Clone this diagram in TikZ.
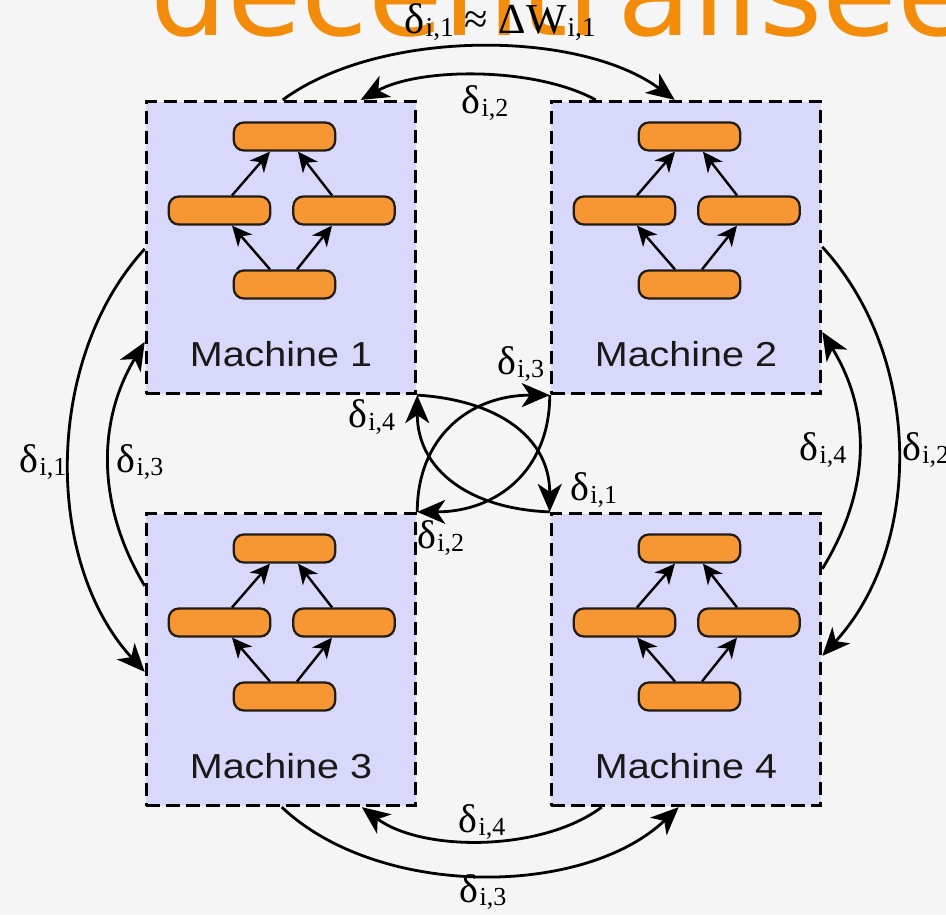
\documentclass[tikz,border=0pt]{standalone}
\usepackage{fontspec}
\setmainfont{Liberation Serif}
\newfontfamily\labelsans{Liberation Sans}
\newfontfamily\titlefont{DejaVu Sans}
\usetikzlibrary{arrows.meta,calc}

\definecolor{bgcol}{RGB}{245,245,245}
\definecolor{boxfill}{RGB}{216,216,250}
\definecolor{barfill}{RGB}{247,151,51}
\definecolor{barline}{RGB}{35,28,20}
\definecolor{titleorange}{RGB}{242,140,10}

% delta with a lowered "i,k" index
\newcommand\dlt[3][30]{{\fontsize{#1}{#1}\selectfont δ}\kern1pt{\fontsize{#2}{#2}\selectfont\raisebox{-0.12em}{i,#3}}}
\newcommand\dl[1]{\dlt[30]{19.5}{#1}}

\tikzset{
  machinebox/.style={draw=black, line width=2.4pt, dash pattern=on 10pt off 5pt,
    fill=boxfill, minimum width=202pt, minimum height=219pt, inner sep=0pt},
  bar/.style={draw=barline, line width=1.7pt, fill=barfill, rounded corners=7.5pt,
    minimum width=76pt, minimum height=21pt, inner sep=0pt},
  flow/.style={-{Stealth[length=15pt,width=14pt,inset=4.5pt]}, line width=1.8pt},
  xfer/.style={-{Stealth[length=21pt,width=18pt,inset=6pt]}, line width=2.1pt},
  dlab/.style={inner sep=0pt},
  machinelabel/.style={font=\labelsans\fontsize{26}{30}\selectfont, text=black!90, inner sep=0pt},
  machine/.pic={
    \node[machinebox] (-box) at (0,0) {};
    \node[bar] (-top) at (3.5,-111) {};
    \node[bar] (-left) at (-61.5,-37) {};
    \node[bar] (-right) at (63,-37) {};
    \node[bar] (-bot) at (3.5,37) {};
    \draw[flow] ([xshift=-10.9pt]-bot.north) -- ([xshift=9.4pt]-left.south);
    \draw[flow] ([xshift=9.4pt]-bot.north) -- ([xshift=-9pt]-right.south);
    \draw[flow] ([xshift=9.4pt]-left.north) -- ([xshift=-10.9pt]-top.south);
    \draw[flow] ([xshift=-9pt]-right.north) -- ([xshift=10.1pt]-top.south);
    \node[machinelabel, anchor=base] (-name) at (0,119) {\scalebox{1.14}[1]{Machine #1}};
  }
}

\begin{document}
\begin{tikzpicture}[x=0.75pt,y=-0.75pt]
\useasboundingbox (0,0) rectangle (946,915);
\clip (0,0) rectangle (946,915);
\fill[bgcol] (0,0) rectangle (946,915);

% heading, partly outside the frame
\node[anchor=base west, inner sep=0pt, text=titleorange,
      font=\titlefont\fontsize{91}{93}\selectfont] (title) at (150,35) {décentralisée};

% the four machines
\pic (m1) at (281,247.5) {machine=1};
\pic (m2) at (686,247.5) {machine=2};
\pic (m3) at (281,659.5) {machine=3};
\pic (m4) at (686,659.5) {machine=4};

% exchanges between neighbours: top
\draw[xfer] ($(m1-box.north west)+(138,0)$) .. controls +(96,-71) and +(-96,-71) .. ($(m2-box.north west)+(125,0)$);
\draw[xfer] ($(m2-box.north west)+(46,0)$) .. controls +(-60,-33) and +(60,-33) .. ($(m1-box.north west)+(216,0)$);
% left
\draw[xfer] ($(m1-box.north west)+(0,149)$) .. controls +(-101,110) and +(-101,-110) .. ($(m3-box.north west)+(0,160)$);
\draw[xfer] ($(m3-box.north west)+(0,74)$) .. controls +(-48,-80) and +(-48,80) .. ($(m1-box.north west)+(0,242)$);
% right
\draw[xfer] ($(m2-box.north east)+(0,147)$) .. controls +(101,110) and +(101,-110) .. ($(m4-box.north east)+(0,144)$);
\draw[xfer] ($(m4-box.north east)+(0,57)$) .. controls +(49,-80) and +(49,80) .. ($(m2-box.north east)+(0,232)$);
% bottom
\draw[xfer] ($(m3-box.south west)+(137,0)$) .. controls +(96,91) and +(-96,91) .. ($(m4-box.south west)+(129,0)$);
\draw[xfer] ($(m4-box.south west)+(52,0)$) .. controls +(-60,45) and +(60,45) .. ($(m3-box.south west)+(217,0)$);
% crossing exchanges through the middle
\draw[xfer] (m1-box.south east) .. controls +(80,5) and +(0,-75) .. (m4-box.north west);
\draw[xfer] (m4-box.north west) .. controls +(-80,-3) and +(0,75) .. (m1-box.south east);
\draw[xfer] (m3-box.north east) .. controls +(0,-75) and +(-80,0) .. (m2-box.south west);
\draw[xfer] (m2-box.south west) .. controls +(0,75) and +(80,0) .. (m3-box.north east);

% labels
\node[dlab, anchor=base] (lt1) at (500,33) {\dlt[32]{20.5}{1}\fontsize{32}{32}\selectfont\ ≈ ΔW\kern1pt{\fontsize{20.5}{20.5}\selectfont\raisebox{-0.12em}{i,1}}};
\node[dlab, anchor=base] (lt2) at (485,113) {\dl{2}};
\node[dlab, anchor=base] (ll1) at (43,472) {\dl{1}};
\node[dlab, anchor=base] (ll3) at (140,472) {\dl{3}};
\node[dlab, anchor=base] (lr4) at (823,460) {\dl{4}};
\node[dlab, anchor=base west] (lr2) at (902,460) {\dl{2}};
\node[dlab, anchor=base] (lb4) at (482,832) {\dl{4}};
\node[dlab, anchor=base] (lb3) at (483,902) {\dl{3}};
\node[dlab, anchor=base west] (lc1) at (570,500) {\dl{1}};
\node[dlab, anchor=base west] (lc4) at (348,427) {\dl{4}};
\node[dlab, anchor=base west] (lc3) at (497,374) {\dl{3}};
\node[dlab, anchor=base west] (lc2) at (417,548) {\dl{2}};
\end{tikzpicture}
\end{document}
